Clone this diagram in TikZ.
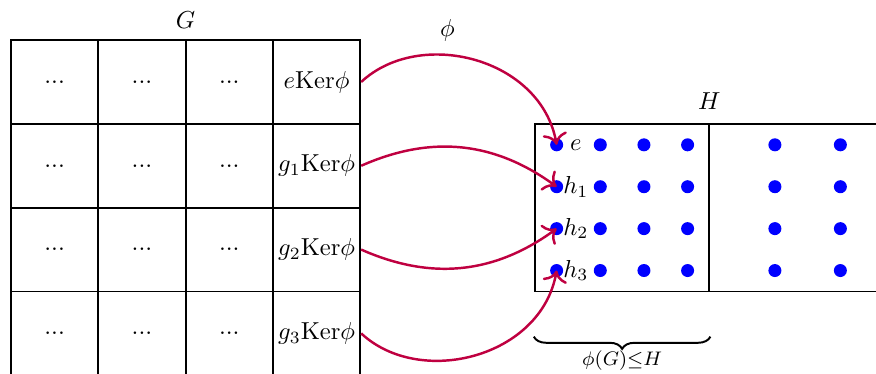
\documentclass[tikz,border=0pt]{standalone}
\usetikzlibrary{arrows.meta,positioning,decorations.pathreplacing}
\tikzset{
  cell/.style ={draw, thick, minimum width=1.25cm, minimum height=1.2cm, inner sep=0pt},
  hbox/.style ={draw, thick, minimum height=2.4cm, inner sep=0pt},
  hdot/.style ={circle, fill=blue, inner sep=0pt, minimum size=5.3pt},
  lbl/.style  ={inner sep=1pt},
  ar/.style   ={-{To[scale=1.25]}, draw=purple, line width=1pt},
  brc/.style  ={thick, decorate, decoration={brace, mirror, amplitude=5pt}},
}

\begin{document}
\begin{tikzpicture}[x=1.25cm, y=1.2cm]
\useasboundingbox (-0.126,-3.98) rectangle (9.908,0.478);
\clip (-0.126,-3.98) rectangle (9.908,0.478);

% ---- G, split into cosets of the kernel ----
\foreach \r in {1,...,4}
  \foreach \c in {1,2,3}
    \node[cell] (c\r\c) at (\c-0.5,0.5-\r) {...};
\foreach \i/\t in {0/e, 1/g_1, 2/g_2, 3/g_3}
  \node[cell] (k\i) at (3.5,-0.5-\i) {$\t\mathrm{Ker}\phi$};
\node (glbl) at (2,0.24) {$G$};

% ---- H and the image of G ----
\node[hbox, minimum width=5cm] (hh) at (8,-2) {};
\node[hbox, minimum width=2.5cm] (img) at (7,-2) {};
\node[above=2pt of hh] (hlbl) {$H$};

\foreach \x [count=\i] in {6.25,6.75,7.25,7.75,8.75,9.5}
  \foreach \y [count=\j] in {-1.25,-1.75,-2.25,-2.75}
    \node[hdot] (d\i\j) at (\x,\y) {};
\foreach \j/\t in {1/e, 2/h_1, 3/h_2, 4/h_3}
  \node[lbl] (l\j) at (6.47,-0.75-0.5*\j) {$\t$};

% ---- the map ----
\node (phi) at (5,0.12) {$\phi$};
\draw[ar] (k0.east) to[out=43, in=100, in looseness=1.1] (d11.center);
\draw[ar] (k1.east) to[bend left=30] (d12.center);
\draw[ar] (k2.east) to[bend right=30] (d13.center);
\draw[ar] (k3.east) to[out=-43, in=-100, in looseness=1.1] (d14.center);

\draw[brc] ([yshift=-18pt]img.south west) -- ([yshift=-18pt]img.south east)
  node[midway, below=2pt, font=\footnotesize] (imglbl) {$\phi(G){\leq}H$};

\end{tikzpicture}
\end{document}
